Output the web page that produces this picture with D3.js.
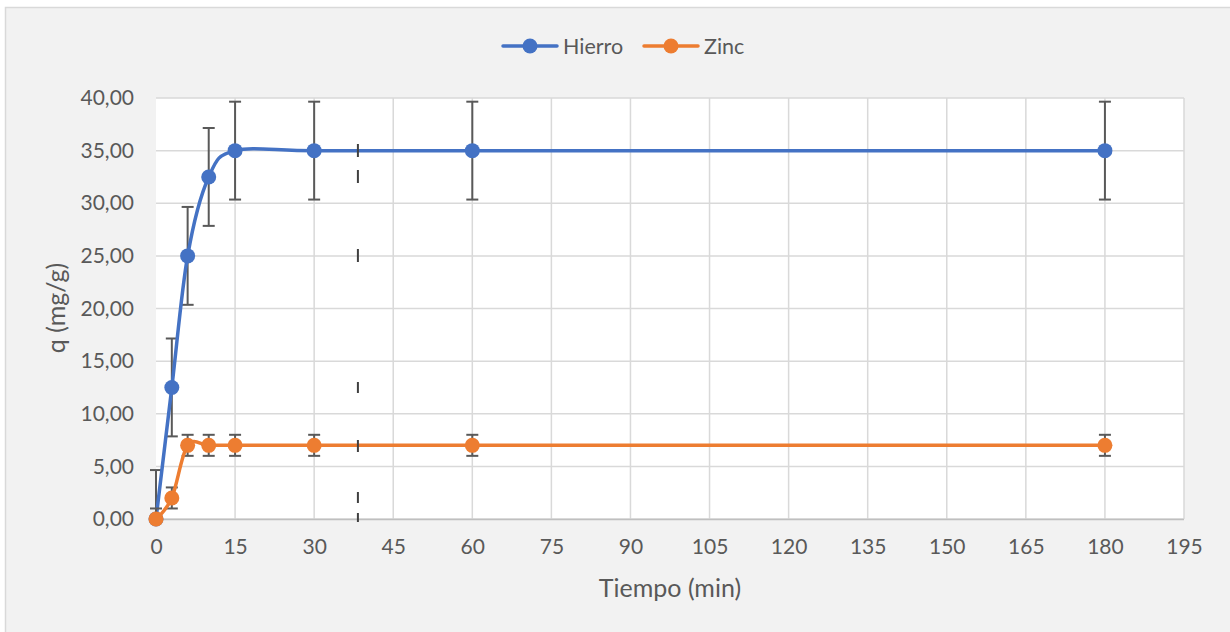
<!DOCTYPE html>
<html>
<head>
<meta charset="utf-8">
<script src="https://cdn.jsdelivr.net/npm/d3@7"></script>
<style>
  html, body { margin: 0; padding: 0; background: #ffffff; }
  svg { display: block; font-family: Lato, "Open Sans", sans-serif; }
</style>
</head>
<body>
<svg id="chart" width="1230" height="632"></svg>
<script>
// Sampling times (min)
const tiempo = [0, 3, 6, 10, 15, 30, 60, 180];
// Adsorbed amount q (mg/g)
const hierro = [0, 12.5, 25, 32.5, 35, 35, 35, 35];
const zinc = [0, 2, 7, 7, 7, 7, 7, 7];
// Error bar half-widths (mg/g)
const hierroErr = [4.65, 4.65, 4.65, 4.65, 4.65, 4.65, 4.65, 4.65];
const zincErr = [1, 1, 1, 1, 1, 1, 1, 1];
// Axis ticks
const xTicks = [0, 15, 30, 45, 60, 75, 90, 105, 120, 135, 150, 165, 180, 195];
const yTicks = [0, 5, 10, 15, 20, 25, 30, 35, 40];
const seriesNames = ["Hierro", "Zinc"];
const seriesColors = ["#4472C4", "#ED7D31"];
// Dashed marker line drawn at this time (min)
const markerTime = 38.3;

const svg = d3.select("#chart");

// chart area background
svg.append("rect")
  .attr("x", 5.5).attr("y", 7.5)
  .attr("width", 1240).attr("height", 640)
  .attr("fill", "#f2f2f2").attr("stroke", "#d9d9d9").attr("stroke-width", 1.5);

const plot = { left: 156, right: 1184, top: 98, bottom: 519 };

const x = d3.scaleLinear().domain([0, 195]).range([plot.left, plot.right]);
const y = d3.scaleLinear().domain([0, 40]).range([plot.bottom, plot.top]);

// plot area
svg.append("rect")
  .attr("x", plot.left).attr("y", plot.top)
  .attr("width", plot.right - plot.left).attr("height", plot.bottom - plot.top)
  .attr("fill", "#ffffff");

// gridlines
const grid = svg.append("g").attr("stroke", "#d9d9d9").attr("stroke-width", 1.5);
grid.selectAll("line.h").data(yTicks).join("line")
  .attr("x1", plot.left).attr("x2", plot.right)
  .attr("y1", d => y(d)).attr("y2", d => y(d));
grid.selectAll("line.v").data(xTicks.slice(1)).join("line")
  .attr("y1", plot.top).attr("y2", plot.bottom)
  .attr("x1", d => x(d)).attr("x2", d => x(d));

// bottom axis line
svg.append("line")
  .attr("x1", plot.left).attr("x2", plot.right)
  .attr("y1", plot.bottom + 0.5).attr("y2", plot.bottom + 0.5)
  .attr("stroke", "#bfbfbf").attr("stroke-width", 1.5);

// axes via d3 axis generators, styled as plain labels
const xAxis = svg.append("g")
  .attr("transform", `translate(0,${plot.bottom})`)
  .call(d3.axisBottom(x).tickValues(xTicks).tickSize(0).tickPadding(20).tickFormat(d3.format("d")));
xAxis.select(".domain").remove();
xAxis.selectAll("text").attr("font-size", 21).attr("fill", "#595959")
  .attr("font-family", "Lato, 'Open Sans', sans-serif");

const fmtY = d => d3.format(".2f")(d).replace(".", ",");
const yAxis = svg.append("g")
  .attr("transform", `translate(${plot.left},0)`)
  .call(d3.axisLeft(y).tickValues(yTicks).tickSize(0).tickPadding(22).tickFormat(fmtY));
yAxis.select(".domain").remove();
yAxis.selectAll("text").attr("font-size", 21).attr("fill", "#595959")
  .attr("font-family", "Lato, 'Open Sans', sans-serif");

// axis titles
svg.append("text")
  .attr("x", 670).attr("y", 597)
  .attr("text-anchor", "middle").attr("font-size", 25).attr("fill", "#595959")
  .text("Tiempo (min)");
svg.append("text")
  .attr("transform", `translate(65,308) rotate(-90)`)
  .attr("text-anchor", "middle").attr("font-size", 25).attr("fill", "#595959")
  .text("q (mg/g)");

// clip for error bars
svg.append("clipPath").attr("id", "plotclip")
  .append("rect")
  .attr("x", plot.left - 10).attr("y", plot.top - 10)
  .attr("width", plot.right - plot.left + 20).attr("height", plot.bottom - plot.top + 10);

const series = [
  { name: seriesNames[0], color: seriesColors[0], values: hierro, err: hierroErr },
  { name: seriesNames[1], color: seriesColors[1], values: zinc, err: zincErr }
];

const line = d3.line()
  .x((d, i) => x(tiempo[i]))
  .y(d => y(d))
  .curve(d3.curveCardinal.tension(0));

series.forEach(s => {
  const g = svg.append("g");
  // error bars
  const eb = g.append("g").attr("clip-path", "url(#plotclip)")
    .attr("stroke", "#595959").attr("stroke-width", 2);
  s.values.forEach((v, i) => {
    const cx = x(tiempo[i]);
    const top = y(v + s.err[i]);
    const bot = y(v - s.err[i]);
    eb.append("line").attr("x1", cx).attr("x2", cx).attr("y1", top).attr("y2", bot);
    eb.append("line").attr("x1", cx - 6).attr("x2", cx + 6).attr("y1", top).attr("y2", top);
    eb.append("line").attr("x1", cx - 6).attr("x2", cx + 6).attr("y1", bot).attr("y2", bot);
  });
  g.append("path")
    .attr("d", line(s.values))
    .attr("fill", "none").attr("stroke", s.color)
    .attr("stroke-width", 3.5).attr("stroke-linecap", "round");
  g.selectAll("circle").data(s.values).join("circle")
    .attr("cx", (d, i) => x(tiempo[i])).attr("cy", d => y(d))
    .attr("r", 7.5).attr("fill", s.color);
});

// dashed vertical marker
svg.append("line")
  .attr("x1", x(markerTime)).attr("x2", x(markerTime))
  .attr("y1", 144).attr("y2", 522)
  .attr("stroke", "#404040").attr("stroke-width", 2)
  .attr("stroke-dasharray", "13 13 13 66 13 120 11 47 12 40 11 10 9 10");

// legend
const legend = svg.append("g");
const legendItems = [
  { name: seriesNames[0], color: seriesColors[0], x: 503 },
  { name: seriesNames[1], color: seriesColors[1], x: 644 }
];
legendItems.forEach(it => {
  legend.append("line")
    .attr("x1", it.x).attr("x2", it.x + 54).attr("y1", 46).attr("y2", 46)
    .attr("stroke", it.color).attr("stroke-width", 3.5).attr("stroke-linecap", "round");
  legend.append("circle").attr("cx", it.x + 27).attr("cy", 46).attr("r", 7.5).attr("fill", it.color);
  legend.append("text")
    .attr("x", it.x + 60).attr("y", 46).attr("dy", "0.35em")
    .attr("font-size", 21.5).attr("fill", "#595959").text(it.name);
});
</script>
</body>
</html>
